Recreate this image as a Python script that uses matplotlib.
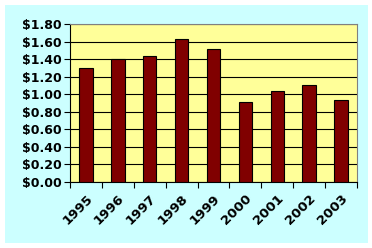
import numpy as np
import matplotlib.pyplot as plt

years = ["1995", "1996", "1997", "1998", "1999", "2000", "2001", "2002", "2003"]
prices = [1.30, 1.40, 1.43, 1.63, 1.52, 0.91, 1.04, 1.11, 0.93]
y_ticks = [0.0, 0.2, 0.4, 0.6, 0.8, 1.0, 1.2, 1.4, 1.6, 1.8]

fig = plt.figure(figsize=(3.72, 2.48), dpi=100, facecolor="white")
# cyan chart area inside a thin white margin
bg = plt.Rectangle((5 / 372, 5 / 248), 363 / 372, 238 / 248,
                   transform=fig.transFigure, facecolor="#CCFFFF",
                   edgecolor="none", zorder=-5)
fig.patches.append(bg)

ax = fig.add_axes([70 / 372, 1 - 182 / 248, 287 / 372, 158 / 248])
ax.set_zorder(1)
ax.set_facecolor("#FFFF99")

x = np.arange(len(years))
ax.bar(x, prices, width=0.42, color="#800000", edgecolor="black", linewidth=0.8, zorder=3)

ax.set_xlim(-0.5, len(years) - 0.5)
ax.set_ylim(0, 1.8)
ax.set_yticks(y_ticks)
ax.set_yticklabels([f"${v:.2f}" for v in y_ticks], fontsize=9, fontweight="bold")
ax.yaxis.grid(True, color="black", linewidth=0.8, zorder=1)
ax.set_axisbelow(True)

# ticks sit between categories, labels at the centers
ax.set_xticks(np.arange(-0.5, len(years), 1.0))
ax.set_xticklabels([])
ax.set_xticks(x, minor=True)
ax.set_xticklabels(years, minor=True, rotation=45, ha="right", va="top",
                   fontsize=9.5, fontweight="bold", rotation_mode="anchor")
ax.tick_params(axis="x", which="minor", length=0, pad=7)
ax.tick_params(axis="x", which="major", length=4, direction="out", width=0.8)
ax.tick_params(axis="y", length=4, direction="out", width=0.8, pad=2)

for side in ["top", "right"]:
    ax.spines[side].set_color("#808080")
for side in ["left", "bottom"]:
    ax.spines[side].set_color("black")

fig.savefig("out.png", dpi=100, facecolor=fig.get_facecolor())
